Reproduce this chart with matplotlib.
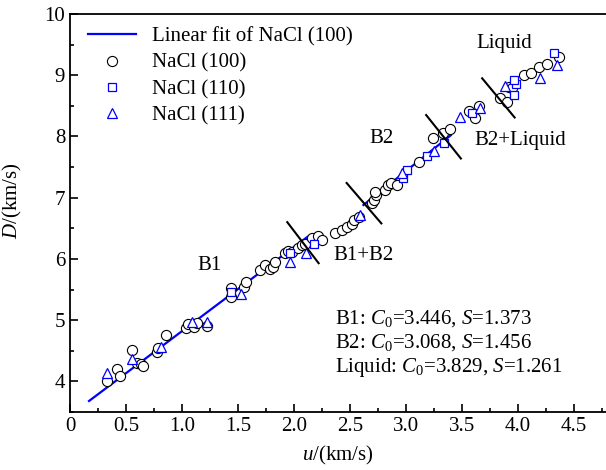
import numpy as np
import matplotlib.pyplot as plt
from matplotlib.ticker import MultipleLocator, FuncFormatter

plt.rcParams['font.family'] = ['Liberation Serif', 'DejaVu Serif']
plt.rcParams['mathtext.fontset'] = 'custom'
plt.rcParams['mathtext.rm'] = 'Liberation Serif'
plt.rcParams['mathtext.it'] = 'Liberation Serif:italic'

# NaCl (100) points
u100 = [0.33, 0.42, 0.45, 0.55, 0.60, 0.63, 0.65, 0.78, 0.79, 0.86, 1.04, 1.05, 1.11,
        1.13, 1.22, 1.44, 1.44, 1.55, 1.57, 1.70, 1.74, 1.79, 1.81, 1.83, 1.92, 1.95,
        1.98, 2.04, 2.07, 2.10, 2.16, 2.21, 2.25, 2.37, 2.43, 2.47, 2.52, 2.54, 2.58,
        2.70, 2.71, 2.73, 2.72, 2.81, 2.84, 2.87, 2.92, 3.12, 3.24, 3.33, 3.39, 3.56,
        3.62, 3.65, 3.84, 3.90, 3.92, 3.95, 4.05, 4.12, 4.19, 4.26, 4.37]
D100 = [4.01, 4.20, 4.09, 4.51, 4.30, 4.28, 4.25, 4.48, 4.54, 4.76, 4.87, 4.94, 4.89,
        4.95, 4.90, 5.38, 5.52, 5.54, 5.62, 5.82, 5.90, 5.83, 5.87, 5.95, 6.09, 6.13,
        6.11, 6.18, 6.22, 6.24, 6.34, 6.37, 6.31, 6.42, 6.47, 6.52, 6.57, 6.63, 6.68,
        6.91, 6.97, 7.04, 7.09, 7.12, 7.20, 7.24, 7.20, 7.58, 7.97, 8.05, 8.13, 8.41,
        8.30, 8.49, 8.62, 8.56, 8.80, 8.79, 9.01, 9.03, 9.13, 9.19, 9.29]

# NaCl (110)
u110 = [1.44, 1.96, 2.18, 2.97, 3.01, 3.19, 3.34, 3.59, 3.96, 3.98, 3.96, 4.32]
D110 = [5.46, 6.09, 6.24, 7.32, 7.45, 7.68, 7.89, 8.38, 8.67, 8.85, 8.92, 9.36]

# NaCl (111)
u111 = [0.33, 0.55, 0.81, 1.09, 1.22, 1.53, 1.96, 2.11, 2.59, 2.96, 3.25, 3.48, 3.66,
        3.88, 4.20, 4.35]
D111 = [4.14, 4.36, 4.56, 4.97, 4.97, 5.42, 5.95, 6.09, 6.71, 7.40, 7.76, 8.31, 8.46,
        8.82, 8.95, 9.16]

# linear fit segments (end points)
fit_b1_u = [0.17, 2.12]
fit_b1_D = [3.68, 6.36]
fit_b2_u = [2.62, 3.40]
fit_b2_D = [6.88, 8.02]

# phase boundary marks
bounds_u = [[1.94, 2.22], [2.47, 2.78], [3.18, 3.49], [3.68, 3.97]]
bounds_D = [[6.60, 5.93], [7.24, 6.58], [8.35, 7.64], [8.95, 8.31]]

fig = plt.figure(figsize=(6.06, 4.70), dpi=100)
ax = fig.add_axes([70 / 606, 58 / 470, 1 - 70 / 606, 398 / 470])

ln, = ax.plot(fit_b1_u, fit_b1_D, color='#0000ff', lw=1.6, zorder=2,
              label='Linear fit of NaCl (100)')
ax.plot(fit_b2_u, fit_b2_D, color='#0000ff', lw=1.6, zorder=2)

for bu, bd in zip(bounds_u, bounds_D):
    ax.plot(bu, bd, color='black', lw=1.5, zorder=4)

c, = ax.plot(u100, D100, 'o', ms=7.3, mfc='white', mec='black', mew=0.8, zorder=3,
             label='NaCl (100)')
s, = ax.plot(u110, D110, 's', ms=6.2, mfc='white', mec='#0000ff', mew=0.9, zorder=3,
             label='NaCl (110)')
t, = ax.plot(u111, D111, '^', ms=7.3, mfc='white', mec='#0000ff', mew=0.9, zorder=3,
             label='NaCl (111)')

fs = 15
ax.text(1.25, 5.9, 'B1', fontsize=fs, ha='center', va='center')
ax.text(2.35, 6.06, 'B1+B2', fontsize=fs, ha='left', va='center')
ax.text(2.78, 7.97, 'B2', fontsize=fs, ha='center', va='center')
ax.text(3.61, 7.94, 'B2+Liquid', fontsize=fs, ha='left', va='center')
ax.text(3.88, 9.52, 'Liquid', fontsize=fs, ha='center', va='center')
ax.text(2.37, 5.03, 'B1: $C_0$=3.446, $S$=1.373', fontsize=fs, va='center')
ax.text(2.37, 4.63, 'B2: $C_0$=3.068, $S$=1.456', fontsize=fs, va='center')
ax.text(2.37, 4.23, 'Liquid: $C_0$=3.829, $S$=1.261', fontsize=fs, va='center')

ax.set_xlim(0, 536 / 112)
ax.set_ylim(3.5, 10)
ax.xaxis.set_major_locator(MultipleLocator(0.5))
ax.xaxis.set_minor_locator(MultipleLocator(0.25))
ax.yaxis.set_major_locator(MultipleLocator(1))
ax.yaxis.set_minor_locator(MultipleLocator(0.5))
ax.xaxis.set_major_formatter(FuncFormatter(lambda v, p: '0' if abs(v) < 1e-9 else f'{v:.1f}'))
ax.tick_params(which='both', direction='in', top=False, right=False, labelsize=fs, width=1.2)
ax.tick_params(which='major', length=6)
ax.tick_params(which='minor', length=3)
ax.spines['right'].set_visible(False)
for sp in ['left', 'bottom', 'top']:
    ax.spines[sp].set_linewidth(1.3)

ax.set_xlabel('$u$/(km/s)', fontsize=fs, labelpad=6)
ax.set_ylabel('$D$/(km/s)', fontsize=fs, labelpad=4)
ax.yaxis.set_label_coords(-0.085, 0.53)

ax.legend(handles=[ln, c, s, t], loc='upper left', frameon=False, fontsize=fs,
          bbox_to_anchor=(88 / 606, 1 - 27 / 470), bbox_transform=fig.transFigure,
          borderpad=0, borderaxespad=0, handlelength=2.3, handletextpad=0.75,
          labelspacing=0.32)

fig.savefig('out.png', dpi=100)
